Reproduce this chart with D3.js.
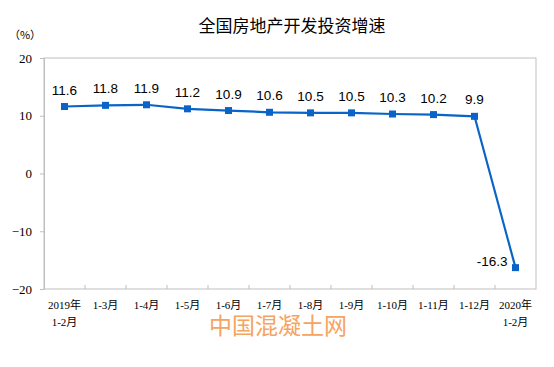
<!DOCTYPE html>
<html><head><meta charset="utf-8">
<script src="https://cdn.jsdelivr.net/npm/d3@7"></script>
<style>body{margin:0;background:#fff}svg{display:block}</style>
</head><body>
<svg id="c" width="554" height="367"></svg>
<script>
const categories = [["2019年","1-2月"],["1-3月"],["1-4月"],["1-5月"],["1-6月"],["1-7月"],["1-8月"],["1-9月"],["1-10月"],["1-11月"],["1-12月"],["2020年","1-2月"]];
const values = [11.6, 11.8, 11.9, 11.2, 10.9, 10.6, 10.5, 10.5, 10.3, 10.2, 9.9, -16.3];
const yTicks = [20, 10, 0, -10, -20];
const title = "全国房地产开发投资增速";
const unit = "（%）";
const watermark = "中国混凝土网";

const svg = d3.select("#c");
const L = 44, R = 536, T = 58, B = 289;
const idx = d3.range(categories.length);
const x = d3.scaleBand().domain(idx).range([L, R]);
const y = d3.scaleLinear().domain([-20, 20]).range([B, T]);
const cx = i => x(i) + x.bandwidth() / 2;

svg.append("text").attr("x", 292).attr("y", 32).attr("text-anchor", "middle")
  .attr("font-family", "Noto Sans CJK SC").attr("font-size", 17).attr("fill", "#000").text(title);
svg.append("text").attr("x", 25).attr("y", 39).attr("text-anchor", "middle")
  .attr("font-family", "Noto Sans CJK SC").attr("font-size", 11).attr("fill", "#000").text(unit);

// plot frame
svg.append("rect").attr("x", L).attr("y", T).attr("width", R - L).attr("height", B - T)
  .attr("fill", "none").attr("stroke", "#bfbfbf").attr("stroke-width", 1);

// y axis
const yAxis = d3.axisLeft(y).tickValues(yTicks).tickSize(4).tickPadding(8);
const ga = svg.append("g").attr("transform", `translate(${L},0)`).call(yAxis);
ga.select(".domain").attr("stroke", "#bfbfbf");
ga.selectAll(".tick line").attr("stroke", "#bfbfbf");
ga.selectAll(".tick text").attr("font-family", "Liberation Serif").attr("font-size", 13).attr("fill", "#000");

// x ticks (between categories, inside)
const xb = d3.range(1, categories.length);
svg.append("g").selectAll("line").data(xb).join("line")
  .attr("x1", d => x(d)).attr("x2", d => x(d)).attr("y1", B).attr("y2", B - 4)
  .attr("stroke", "#bfbfbf");

// x labels (one text per line)
const xlData = [];
idx.forEach(i => categories[i].forEach((s, k) => xlData.push({i, k, s})));
svg.append("g").selectAll("text").data(xlData).join("text")
  .attr("x", d => cx(d.i)).attr("y", d => 309 + d.k * 17)
  .attr("text-anchor", "middle").attr("font-family", "Liberation Serif, Noto Sans CJK SC")
  .attr("font-size", 11).attr("fill", "#000").text(d => d.s);

// line
const line = d3.line().x((d, i) => cx(i)).y(d => y(d));
svg.append("path").datum(values).attr("d", line).attr("fill", "none")
  .attr("stroke", "#0a64c8").attr("stroke-width", 2.2);
svg.append("g").selectAll("rect").data(values).join("rect")
  .attr("x", (d, i) => cx(i) - 3.5).attr("y", d => y(d) - 3.5)
  .attr("width", 7).attr("height", 7).attr("fill", "#0a64c8");

// data labels
svg.append("g").selectAll("text").data(values).join("text")
  .attr("x", (d, i) => i === values.length - 1 ? cx(i) - 8 : cx(i))
  .attr("y", (d, i) => i === values.length - 1 ? y(d) - 2 : y(d) - 12)
  .attr("text-anchor", (d, i) => i === values.length - 1 ? "end" : "middle")
  .attr("font-family", "Liberation Sans").attr("font-size", 13.5).attr("fill", "#000")
  .text(d => d.toFixed(1));

// watermark
svg.append("text").attr("x", 278).attr("y", 334).attr("text-anchor", "middle")
  .attr("font-family", "Noto Sans CJK SC").attr("font-size", 23).attr("fill", "#f5a461")
  .text(watermark);
</script>
</body></html>
